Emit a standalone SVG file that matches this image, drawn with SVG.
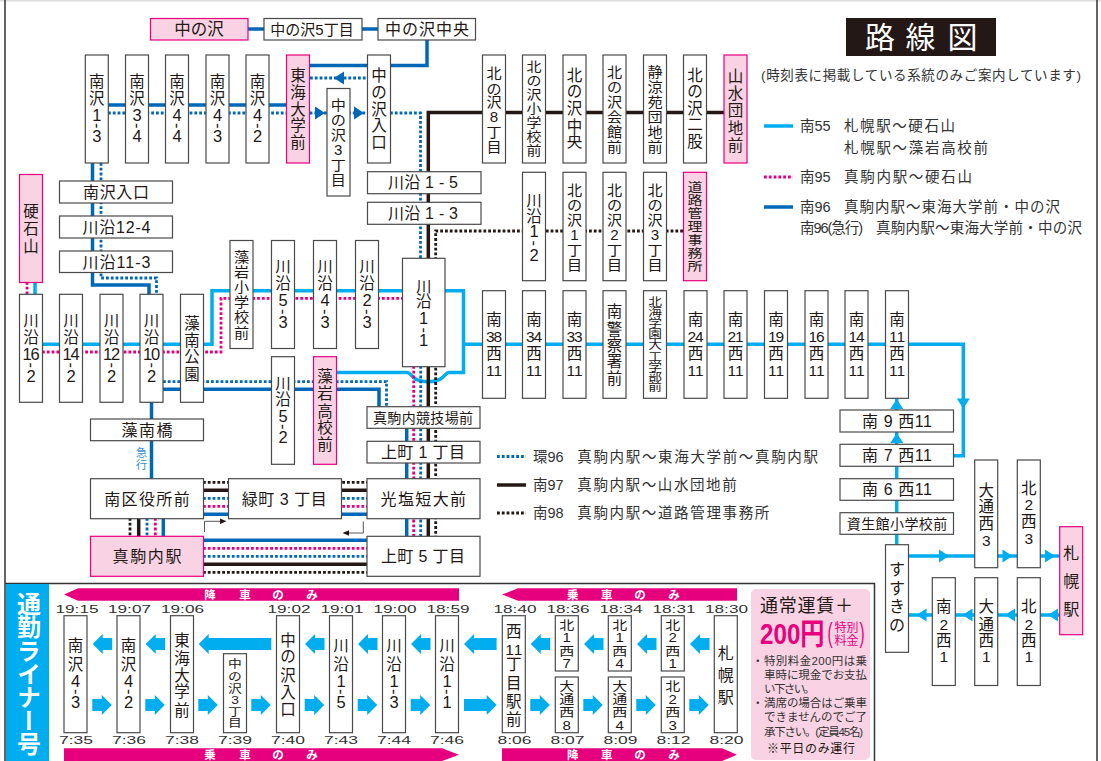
<svg xmlns="http://www.w3.org/2000/svg" width="1101" height="761" viewBox="0 0 1101 761">
<style>
text{font-family:"Liberation Sans","Noto Sans CJK JP",sans-serif;fill:#231815}
.n{fill:#fff;stroke:#4a4a4a;stroke-width:1.2}
.p{fill:#f9d3e3;stroke:#e6007e;stroke-width:1.2}
.v{font-size:15.5px;text-anchor:middle}
.h{font-size:16px;text-anchor:middle}
.f14{font-size:14px}.f145{font-size:14.5px}.f13{font-size:13px}.f125{font-size:12.5px}.f12{font-size:12px}.f115{font-size:11.5px}.f16{font-size:16px}
.g{font-size:16.5px}
.l{font-size:14.5px;fill:#333}
.tm{font-size:10.5px;text-anchor:middle;fill:#333}
.bt{font-size:11.5px;font-weight:bold;fill:#fff;text-anchor:middle}
.note{font-size:11.5px;fill:#333}
.c,.m,.d,.k,.bd,.pd,.kd,.thin{fill:none}
.c{stroke:#00aeef;stroke-width:3.5}
.d{stroke:#0068b7;stroke-width:3.5}
.k{stroke:#231815;stroke-width:3.5}
.bd{stroke:#0068b7;stroke-width:2.8;stroke-dasharray:2.8 2}
.pd{stroke:#e6007e;stroke-width:2.8;stroke-dasharray:2.8 2}
.kd{stroke:#231815;stroke-width:2.8;stroke-dasharray:2.8 2}
.thin{stroke:#555;stroke-width:1}
.fc{fill:#00aeef}.fd{fill:#0068b7}.fk{fill:#231815}.fp{fill:#e6007e}
</style>
<defs>
<path id="tr" d="M0-6.5L10 0L0 6.5Z"/>
<path id="tl" d="M10-6.5L0 0L10 6.5Z"/>
<path id="tu" d="M-6.5 10L0 0L6.5 10Z"/>
<path id="td" d="M-6.5 0L0 10L6.5 0Z"/>
<path id="al" d="M0 0L10-10V-6H19.500V6H10V10Z"/>
<path id="ar" d="M19.500 0L9.500-10V-6H0V6H9.500V10Z"/>
</defs>
<rect x="0" y="0" width="1101" height="1.500" fill="#ddd"/>
<path d="M5 0V761M1097 0V761M5 583.500H874.500V761" fill="none" stroke="#333" stroke-width="1.500"/>
<g id="title"><rect x="846" y="18" width="150" height="38" fill="#231815"/>
<text x="880 920.500 962.500" y="48 48 48" style="font-size:30px;fill:#fff;text-anchor:middle">路線図</text></g>
<text x="761" y="80" class="l" style="font-size:13.500px" textLength="320">(時刻表に掲載している系統のみご案内しています)</text>
<g id="legend">
<path class="c" d="M764 126H793"/><path class="pd" d="M764 177H793"/><path class="d" d="M764 207H793"/>
<path class="bd" d="M497 456.500H526"/><path class="k" d="M497 485H526"/><path class="kd" d="M497 513H526"/>
<text class="l" x="800" y="131">南55</text><text class="l" x="844" y="131" textLength="111">札幌駅～硬石山</text>
<text class="l" x="844" y="153" textLength="144">札幌駅～藻岩高校前</text>
<text class="l" x="800" y="182">南95</text><text class="l" x="844" y="182" textLength="128">真駒内駅～硬石山</text>
<text class="l" x="800" y="212">南96</text><text class="l" x="844" y="212" textLength="216">真駒内駅～東海大学前・中の沢</text>
<text class="l" x="800" y="233" textLength="63">南96(急行)</text><text class="l" x="876" y="233" textLength="206">真駒内駅～東海大学前・中の沢</text>
<text class="l" x="533" y="461.500">環96</text><text class="l" x="577.300" y="461.500" textLength="240.700">真駒内駅～東海大学前～真駒内駅</text>
<text class="l" x="533" y="490">南97</text><text class="l" x="577.300" y="490" textLength="159.400">真駒内駅～山水団地前</text>
<text class="l" x="533" y="518">南98</text><text class="l" x="577.300" y="518" textLength="192">真駒内駅～道路管理事務所</text>
</g>
<g id="connectors">
<path class="d" d="M248 29H378M427 40V65.500H310"/>
<path class="d" d="M108 105H287"/>
<path class="bd" d="M108 113H367"/><path class="bd" d="M390 113H420.500V258"/>
<path class="bd" d="M310 78H367"/>
<g class="fd"><use href="#tr" x="315" y="113"/><use href="#tr" x="354" y="113"/><use href="#tl" x="334" y="78"/></g>
<path class="c" d="M42 344.300H212V290.700H463.500V372.500H449C444 372.500 445 381.700 428 381.700C411 381.700 412 372.500 407 372.500H337"/>
<path class="k" d="M725 112.500H428.300V536"/>
<path class="kd" d="M683 231H435.700V536"/>
<path class="d" d="M92.500 163V285H149V294"/>
<path class="bd" d="M101 163V278H156.500V294"/>
<path class="c" d="M35 282V294"/><path class="pd" d="M27 282V294"/>
<path class="c" d="M463.500 344.300H963.300V455.700H953"/>
<path class="pd" d="M42 352H221V298.300H403"/>
<path class="bd" d="M163 381.700H386.500V407"/>
<path class="d" d="M163 389.300H379V407"/>
<path class="d" d="M151.500 402V479"/>
<path class="d" d="M406.700 428V536.500"/>
<path class="pd" d="M413.700 366V536"/><path class="bd" d="M420.700 366V536"/>
<path class="kd" d="M203 482.300H367"/><path class="k" d="M203 490.300H367"/><path class="bd" d="M203 498.300H367"/><path class="pd" d="M203 506.300H367"/><path class="d" d="M203 514.300H367"/>
<path class="kd" d="M130 518V536"/><path class="k" d="M138.700 518V536"/><path class="bd" d="M147 518V536"/><path class="pd" d="M155.300 518V536"/><path class="d" d="M163.300 518V536"/>
<path class="d" d="M203 540.300H367"/><path class="pd" d="M203 548.300H367"/><path class="bd" d="M203 556.300H367"/><path class="k" d="M203 564.300H367"/><path class="kd" d="M203 572.300H367"/>
<path class="thin" d="M204.500 532V521.300H221M363.300 521.500V533H347"/>
<g class="fk"><path d="M220 518.500L226.500 521.300L220 524Z"/><path d="M349 530.300L342.500 533L349 535.700Z"/></g>
<path class="c" d="M896.700 398V545"/>
<path class="c" d="M908 556H1060M908 615H1060"/>
<g class="fc"><use href="#td" x="963.300" y="398.500"/><use href="#tu" x="896.700" y="399"/><use href="#tu" x="896.700" y="433"/>
<use href="#tr" x="939" y="556"/><use href="#tr" x="1002.500" y="556"/><use href="#tr" x="1045" y="556"/>
<use href="#tl" x="916.500" y="615"/><use href="#tl" x="962.500" y="615"/><use href="#tl" x="1005" y="615"/><use href="#tl" x="1048" y="615"/></g>
</g>
<g id="nodes">
<g id="n-nakanosawa"><rect class="p" x="150.500" y="18.500" width="97.500" height="21.500"/><text class="h" x="199" y="35" style="font-size:16.500px">中の沢</text></g>
<g id="n-nakanosawa5"><rect class="n" x="264" y="18.500" width="98" height="21.500"/><text class="h" x="312" y="35" style="font-size:15px">中の沢5丁目</text></g>
<g id="n-nakanosawa-c"><rect class="n" x="378" y="18.500" width="97.500" height="21.500"/><text class="h" x="427" y="35" textLength="84">中の沢中央</text></g>
<g id="n1"><rect class="n" x="85.300" y="55" width="23" height="108"/><text class="v" x="96.800 96.800 96.800 95 96.800" y="87.400 104 120.700 123.100 142.400" rotate="0 0 0 90 0">南沢<tspan class="g">1-3</tspan></text></g>
<g id="n2"><rect class="n" x="125.500" y="55" width="23" height="108"/><text class="v" x="137 137 137 135.200 137" y="87.400 104 120.700 123.100 142.400" rotate="0 0 0 90 0">南沢<tspan class="g">3-4</tspan></text></g>
<g id="n3"><rect class="n" x="165.500" y="55" width="23" height="108"/><text class="v" x="177 177 177 175.200 177" y="87.400 104 120.700 123.100 142.400" rotate="0 0 0 90 0">南沢<tspan class="g">4-4</tspan></text></g>
<g id="n4"><rect class="n" x="206" y="55" width="23" height="108"/><text class="v" x="217.500 217.500 217.500 215.700 217.500" y="87.400 104 120.700 123.100 142.400" rotate="0 0 0 90 0">南沢<tspan class="g">4-3</tspan></text></g>
<g id="n5"><rect class="n" x="246" y="55" width="23" height="108"/><text class="v" x="257.500 257.500 257.500 255.700 257.500" y="87.400 104 120.700 123.100 142.400" rotate="0 0 0 90 0">南沢<tspan class="g">4-2</tspan></text></g>
<g id="n6"><rect class="p" x="286.500" y="55" width="23" height="108"/><text class="v" x="298 298 298 298 298" y="81.400 97.700 114.700 131.400 148">東海大学前</text></g>
<g id="n7"><rect class="n" x="367.500" y="55" width="23" height="108"/><text class="v" x="379 379 379 379 379" y="81.400 97.700 114.700 131.400 148">中の沢入口</text></g>
<g id="n8"><rect class="n" x="327" y="88.500" width="23" height="107.500"/><text class="v f14" transform="translate(338.300 0) scale(1.08 1)" x="0 0 0 0 0 0" y="110.400 124.700 139.700 154.700 170.400 185.400">中の沢3丁目</text></g>
<g id="n9"><rect class="n" x="482.500" y="55" width="23" height="108"/><text class="v f14" transform="translate(494 0) scale(1.08 1)" x="0 0 0 0 0 0" y="77.800 93.800 107.200 122.200 137.200 152.200">北の沢8丁目</text></g>
<g id="n10"><rect class="n" x="522.500" y="55" width="23" height="108"/><text class="v f13" transform="translate(534 0) scale(1.15 1)" x="0 0 0 0 0 0 0" y="71.500 85.400 99.300 113.200 127.100 141 154.900">北の沢小学校前</text></g>
<g id="n11"><rect class="n" x="563" y="55" width="23" height="108"/><text class="v" x="574.500 574.500 574.500 574.500 574.500" y="80.700 97.200 113.700 132.400 147.400">北の沢中央</text></g>
<g id="n12"><rect class="n" x="603" y="55" width="23" height="108"/><text class="v f14" transform="translate(614.500 0) scale(1.08 1)" x="0 0 0 0 0 0" y="77.200 92.200 107.200 122.200 137.200 152.200">北の沢会館前</text></g>
<g id="n13"><rect class="n" x="643.500" y="55" width="23" height="108"/><text class="v f14" transform="translate(655 0) scale(1.08 1)" x="0 0 0 0 0 0" y="77.200 92.200 107.200 122.200 137.200 152.200">静涼苑団地前</text></g>
<g id="n14"><rect class="n" x="683.500" y="55" width="23" height="108"/><text class="v" x="695 695 695 695 695" y="80.700 97.200 113.700 130.200 147">北の沢二股</text></g>
<g id="n15"><rect class="p" x="724" y="55" width="23" height="108"/><text class="v" x="735.500 735.500 735.500 735.500 735.500" y="82.400 98.700 115.700 133.700 150.700">山水団地前</text></g>
<g id="n16"><rect class="n" x="367.500" y="171.700" width="113.500" height="22"/><text class="h" x="423" y="188" textLength="70">川沿 1 - 5</text></g>
<g id="n17"><rect class="n" x="367.500" y="202.300" width="113.500" height="22"/><text class="h" x="423" y="219" textLength="70">川沿 1 - 3</text></g>
<g id="n18"><rect class="n" x="522.500" y="172.300" width="23" height="108.400"/><text class="v" x="534 534 534 532.200 534" y="205.700 222.400 237.400 240.400 260.700" rotate="0 0 0 90 0">川沿<tspan class="g">1-2</tspan></text></g>
<g id="n19"><rect class="n" x="563" y="172.300" width="23" height="108.400"/><text class="v f14" transform="translate(574.500 0) scale(1.08 1)" x="0 0 0 0 0 0" y="195.500 210.500 225.500 240.500 255.500 270.500">北の沢1丁目</text></g>
<g id="n20"><rect class="n" x="603" y="172.300" width="23" height="108.400"/><text class="v f14" transform="translate(614.500 0) scale(1.08 1)" x="0 0 0 0 0 0" y="195.500 210.500 225.500 240.500 255.500 270.500">北の沢2丁目</text></g>
<g id="n21"><rect class="n" x="643.500" y="172.300" width="23" height="108.400"/><text class="v f14" transform="translate(655 0) scale(1.08 1)" x="0 0 0 0 0 0" y="195.500 210.500 225.500 240.500 255.500 270.500">北の沢3丁目</text></g>
<g id="n22"><rect class="p" x="683.500" y="172.300" width="23" height="108.400"/><text class="v f125" transform="translate(695 0) scale(1.2 1)" x="0 0 0 0 0 0 0" y="191.600 204.900 218.200 231.500 244.800 258.100 271.400">道路管理事務所</text></g>
<g id="n23"><rect class="p" x="19.500" y="174.500" width="23" height="108"/><text class="v" x="31 31 31" y="217.400 234 251.700">硬石山</text></g>
<g id="n24"><rect class="n" x="59.500" y="181" width="113" height="22"/><text class="h" x="116" y="198" textLength="66">南沢入口</text></g>
<g id="n25"><rect class="n" x="59.500" y="216" width="113" height="22"/><text class="h" x="116.500" y="232.500" textLength="68">川沿12-4</text></g>
<g id="n26"><rect class="n" x="59.500" y="251" width="113" height="21.500"/><text class="h" x="116.500" y="267.500" textLength="68">川沿11-3</text></g>
<g id="n27"><rect class="n" x="19.500" y="294.300" width="23" height="108"/><text class="v" x="31 31 27 35 29.200 31" y="326.400 343 359.700 359.700 362.400 381.700" rotate="0 0 0 0 90 0">川沿<tspan class="g">16-2</tspan></text></g>
<g id="n28"><rect class="n" x="59.500" y="294.300" width="23" height="108"/><text class="v" x="71 71 67 75 69.200 71" y="326.400 343 359.700 359.700 362.400 381.700" rotate="0 0 0 0 90 0">川沿<tspan class="g">14-2</tspan></text></g>
<g id="n29"><rect class="n" x="100" y="294.300" width="23" height="108"/><text class="v" x="111.500 111.500 107.500 115.500 109.700 111.500" y="326.400 343 359.700 359.700 362.400 381.700" rotate="0 0 0 0 90 0">川沿<tspan class="g">12-2</tspan></text></g>
<g id="n30"><rect class="n" x="140" y="294.300" width="23" height="108"/><text class="v" x="151.500 151.500 147.500 155.500 149.700 151.500" y="326.400 343 359.700 359.700 362.400 381.700" rotate="0 0 0 0 90 0">川沿<tspan class="g">10-2</tspan></text></g>
<g id="n31"><rect class="n" x="180.500" y="294.300" width="23" height="108"/><text class="v" x="192 192 192 192" y="329 345.700 362.400 380">藻南公園</text></g>
<g id="n32"><rect class="n" x="230" y="240.500" width="23" height="108"/><text class="v f14" transform="translate(241.500 0) scale(1.08 1)" x="0 0 0 0 0 0" y="262.200 277.200 292.200 307.200 322.200 338.200">藻岩小学校前</text></g>
<g id="n33"><rect class="n" x="271.500" y="240.500" width="23" height="108"/><text class="v" x="283 283 283 281.200 283" y="272.400 289 306.400 309 327.700" rotate="0 0 0 90 0">川沿<tspan class="g">5-3</tspan></text></g>
<g id="n34"><rect class="n" x="313.500" y="240.500" width="23" height="108"/><text class="v" x="325 325 325 323.200 325" y="272.400 289 306.400 309 327.700" rotate="0 0 0 90 0">川沿<tspan class="g">4-3</tspan></text></g>
<g id="n35"><rect class="n" x="355.500" y="240.500" width="23" height="108"/><text class="v" x="367 367 367 365.200 367" y="272.400 289 306.400 309 327.700" rotate="0 0 0 90 0">川沿<tspan class="g">2-3</tspan></text></g>
<g id="n36"><rect class="n" x="402.500" y="258.300" width="42.500" height="108.400"/><text class="v" x="423.700 423.700 423.700 421.900 423.700" y="292.400 307.400 324 327.400 345.700" rotate="0 0 0 90 0">川沿<tspan class="g">1-1</tspan></text></g>
<g id="n37"><rect class="n" x="271.500" y="356.700" width="23" height="107.600"/><text class="v" x="283 283 283 281.200 283" y="389 405 422.400 424 443.400" rotate="0 0 0 90 0">川沿<tspan class="g">5-2</tspan></text></g>
<g id="n38"><rect class="p" x="313.500" y="356.700" width="23" height="107.600"/><text class="v" x="325 325 325 325 325" y="382.400 399 417.400 433.400 449.700">藻岩高校前</text></g>
<g id="n39"><rect class="n" x="90.500" y="419" width="113" height="21.700"/><text class="h" x="147" y="435.500" textLength="51">藻南橋</text></g>
<text id="kyuko" x="141.500 141.500" y="457 469" style="font-size:11.500px;text-anchor:middle;fill:#3a8fd0">急行</text>
<g id="n40"><rect class="n" x="367" y="406.700" width="113" height="21.600"/><text class="h f14" x="423" y="423" textLength="100">真駒内競技場前</text></g>
<g id="n41"><rect class="n" x="367" y="441.300" width="113" height="21.700"/><text class="h" x="423" y="458" textLength="84">上町 1 丁目</text></g>
<g id="n42"><rect class="n" x="90.500" y="478.700" width="113" height="40"/><text class="h" x="147" y="504.500" textLength="85.500">南区役所前</text></g>
<g id="n43"><rect class="n" x="228.500" y="478.700" width="113" height="40"/><text class="h" x="284.200" y="504.500" textLength="85">緑町 3 丁目</text></g>
<g id="n44"><rect class="n" x="367" y="478.700" width="113" height="40"/><text class="h" x="423.300" y="504.500" textLength="85.500">光塩短大前</text></g>
<g id="n45"><rect class="p" x="90.500" y="536.300" width="113" height="40"/><text class="h" x="147" y="562" textLength="69">真駒内駅</text></g>
<g id="n46"><rect class="n" x="367" y="536.300" width="113" height="40"/><text class="h" x="423" y="562" textLength="84">上町 5 丁目</text></g>
<g id="n47"><rect class="n" x="482.500" y="290.700" width="23" height="107.600"/><text class="v" x="494 490.200 497.800 494 490.200 497.800" y="325 341.700 341.700 359 375.700 375.700">南38西11</text></g>
<g id="n48"><rect class="n" x="522.500" y="290.700" width="23" height="107.600"/><text class="v" x="534 530.200 537.800 534 530.200 537.800" y="325 341.700 341.700 359 375.700 375.700">南34西11</text></g>
<g id="n49"><rect class="n" x="563" y="290.700" width="23" height="107.600"/><text class="v" x="574.500 570.700 578.300 574.500 570.700 578.300" y="325 341.700 341.700 359 375.700 375.700">南33西11</text></g>
<g id="n50"><rect class="n" x="603" y="290.700" width="23" height="107.600"/><text class="v" x="614.500 614.500 614.500 614.500 614.500" y="317.400 335 350.700 367.400 384">南警察署前</text></g>
<g id="n51"><rect class="n" x="643.500" y="290.700" width="23" height="107.600"/><text transform="translate(655 0) scale(1.25 1)" style="font-size:11px;text-anchor:middle" x="0 0 0 0 0 0 0 0 0" y="305.900 315.900 326.900 338.200 349.200 360.900 371.400 381.400 391.400">北海学園大工学部前</text></g>
<g id="n52"><rect class="n" x="684" y="290.700" width="23" height="107.600"/><text class="v" x="695.500 691.700 699.300 695.500 691.700 699.300" y="325 341.700 341.700 359 375.700 375.700">南24西11</text></g>
<g id="n53"><rect class="n" x="724" y="290.700" width="23" height="107.600"/><text class="v" x="735.500 731.700 739.300 735.500 731.700 739.300" y="325 341.700 341.700 359 375.700 375.700">南21西11</text></g>
<g id="n54"><rect class="n" x="764.500" y="290.700" width="23" height="107.600"/><text class="v" x="776 772.200 779.800 776 772.200 779.800" y="325 341.700 341.700 359 375.700 375.700">南19西11</text></g>
<g id="n55"><rect class="n" x="805" y="290.700" width="23" height="107.600"/><text class="v" x="816.500 812.700 820.300 816.500 812.700 820.300" y="325 341.700 341.700 359 375.700 375.700">南16西11</text></g>
<g id="n56"><rect class="n" x="845" y="290.700" width="23" height="107.600"/><text class="v" x="856.500 852.700 860.300 856.500 852.700 860.300" y="325 341.700 341.700 359 375.700 375.700">南14西11</text></g>
<g id="n57"><rect class="n" x="885.500" y="290.700" width="23" height="107.600"/><text class="v" x="897 893.200 900.800 897 893.200 900.800" y="325 341.700 341.700 359 375.700 375.700">南11西11</text></g>
<g id="n58"><rect class="n" x="840" y="410" width="113.500" height="22"/><text class="h" x="897" y="426.500" textLength="70">南 9 西11</text></g>
<g id="n59"><rect class="n" x="840" y="444.300" width="113.500" height="22"/><text class="h" x="897" y="461" textLength="70">南 7 西11</text></g>
<g id="n60"><rect class="n" x="840" y="478.700" width="113.500" height="21.600"/><text class="h" x="897" y="495" textLength="70">南 6 西11</text></g>
<g id="n61"><rect class="n" x="840" y="512.700" width="113.500" height="21.600"/><text class="h f14" x="897" y="529" textLength="100.500">資生館小学校前</text></g>
<g id="n62"><rect class="n" x="885.500" y="544.700" width="23" height="107.600"/><text class="v f16" x="897 897 897 897" y="574.700 594 611.700 630.700">すすきの</text></g>
<g id="n63"><rect class="n" x="974.700" y="460" width="23" height="107.700"/><text class="v" x="986.200 986.200 986.200 986.200" y="495.700 512.400 529 545.700">大通西3</text></g>
<g id="n64"><rect class="n" x="1017.300" y="460" width="23" height="107.700"/><text class="v" x="1028.800 1028.800 1028.800 1028.800" y="494 510 527.400 544">北2西3</text></g>
<g id="n65"><rect class="p" x="1059.700" y="526.700" width="23" height="108"/><text class="v f16" x="1071.200 1071.200 1071.200" y="559 587.400 615">札幌駅</text></g>
<g id="n66"><rect class="n" x="932.300" y="577.700" width="23" height="107.800"/><text class="v" x="943.800 943.800 943.800 943.800" y="612.400 629.700 645.700 662.400">南2西1</text></g>
<g id="n67"><rect class="n" x="974.700" y="577.700" width="23" height="107.800"/><text class="v" x="986.200 986.200 986.200 986.200" y="612.400 629.700 645.700 662.400">大通西1</text></g>
<g id="n68"><rect class="n" x="1017.300" y="577.700" width="23" height="107.800"/><text class="v" x="1028.800 1028.800 1028.800 1028.800" y="612.400 629.700 645.700 662.400">北2西1</text></g>
</g>
<g id="liner">
<rect x="6" y="584" width="43" height="177" fill="#00aeef"/>
<text x="27" y="592" style="font-size:24px;font-weight:bold;fill:#fff;writing-mode:vertical-rl;text-orientation:upright;letter-spacing:-.7px">通勤ライナー号</text>
<path class="fp" d="M64 594.500L78 588.300H459V600.700H78Z"/>
<path class="fp" d="M502 594.500L518 588.300H737V600.700H518Z"/>
<path class="fp" d="M64 748.300H442L459 754.700L442 761H64Z"/>
<path class="fp" d="M502 748.300H722L737 754.700L722 761H502Z"/>
<text class="bt" x="210 245 278 312" y="599 599 599 599">降車のみ</text>
<text class="bt" x="572.700 606.700 640 674" y="599 599 599 599">乗車のみ</text>
<text class="bt" x="210 245 278 312" y="759 759 759 759">乗車のみ</text>
<text class="bt" x="572.700 606.700 640 674" y="759 759 759 759">降車のみ</text>
<g id="times" class="tm">
<text class="tm" x="77" y="613" textLength="43" lengthAdjust="spacingAndGlyphs">19:15</text>
<text class="tm" x="129.500" y="613" textLength="43" lengthAdjust="spacingAndGlyphs">19:07</text>
<text class="tm" x="182.500" y="613" textLength="43" lengthAdjust="spacingAndGlyphs">19:06</text>
<text class="tm" x="289" y="613" textLength="43" lengthAdjust="spacingAndGlyphs">19:02</text>
<text class="tm" x="342" y="613" textLength="43" lengthAdjust="spacingAndGlyphs">19:01</text>
<text class="tm" x="395" y="613" textLength="43" lengthAdjust="spacingAndGlyphs">19:00</text>
<text class="tm" x="448" y="613" textLength="43" lengthAdjust="spacingAndGlyphs">18:59</text>
<text class="tm" x="515" y="613" textLength="43" lengthAdjust="spacingAndGlyphs">18:40</text>
<text class="tm" x="568" y="613" textLength="43" lengthAdjust="spacingAndGlyphs">18:36</text>
<text class="tm" x="621" y="613" textLength="43" lengthAdjust="spacingAndGlyphs">18:34</text>
<text class="tm" x="674" y="613" textLength="43" lengthAdjust="spacingAndGlyphs">18:31</text>
<text class="tm" x="726.500" y="613" textLength="43" lengthAdjust="spacingAndGlyphs">18:30</text>
<text class="tm" x="76" y="744" textLength="34" lengthAdjust="spacingAndGlyphs">7:35</text>
<text class="tm" x="129" y="744" textLength="34" lengthAdjust="spacingAndGlyphs">7:36</text>
<text class="tm" x="182" y="744" textLength="34" lengthAdjust="spacingAndGlyphs">7:38</text>
<text class="tm" x="235" y="744" textLength="34" lengthAdjust="spacingAndGlyphs">7:39</text>
<text class="tm" x="288" y="744" textLength="34" lengthAdjust="spacingAndGlyphs">7:40</text>
<text class="tm" x="341" y="744" textLength="34" lengthAdjust="spacingAndGlyphs">7:43</text>
<text class="tm" x="394" y="744" textLength="34" lengthAdjust="spacingAndGlyphs">7:44</text>
<text class="tm" x="447" y="744" textLength="34" lengthAdjust="spacingAndGlyphs">7:46</text>
<text class="tm" x="514.500" y="744" textLength="34" lengthAdjust="spacingAndGlyphs">8:06</text>
<text class="tm" x="567.500" y="744" textLength="34" lengthAdjust="spacingAndGlyphs">8:07</text>
<text class="tm" x="620.500" y="744" textLength="34" lengthAdjust="spacingAndGlyphs">8:09</text>
<text class="tm" x="673.500" y="744" textLength="34" lengthAdjust="spacingAndGlyphs">8:12</text>
<text class="tm" x="726.500" y="744" textLength="34" lengthAdjust="spacingAndGlyphs">8:20</text>
</g>
<g class="fc">
<use href="#al" x="92.700" y="644"/><use href="#al" x="145.700" y="644"/>
<path d="M198.700 644L208.700 634V638H271.300V650H208.700V654Z"/>
<use href="#al" x="305" y="644"/><use href="#al" x="358" y="644"/><use href="#al" x="411" y="644"/>
<path d="M464 644L474 634V638H496.600V650H474V654Z"/>
<use href="#al" x="530.700" y="644"/><use href="#al" x="584" y="644"/><use href="#al" x="637" y="644"/><use href="#al" x="690" y="644"/>
<use href="#ar" x="92.300" y="705"/><use href="#ar" x="145.300" y="705"/><use href="#ar" x="198.300" y="705"/><use href="#ar" x="251.300" y="705"/><use href="#ar" x="304.700" y="705"/><use href="#ar" x="357.700" y="705"/><use href="#ar" x="410.700" y="705"/>
<path d="M496.700 705L486.700 695V699H464V711H486.700V715Z"/>
<use href="#ar" x="530.300" y="705"/><use href="#ar" x="583.300" y="705"/><use href="#ar" x="636.300" y="705"/><use href="#ar" x="689.300" y="705"/>
</g>
<g id="b1"><rect class="n" x="64" y="615.700" width="23" height="117"/><text class="v" x="75.500 75.500 75.500 73.700 75.500" y="651.400 669.700 686.700 689 708.400" rotate="0 0 0 90 0">南沢<tspan class="g">4-3</tspan></text></g>
<g id="b2"><rect class="n" x="117" y="615.700" width="23" height="117"/><text class="v" x="128.500 128.500 128.500 126.700 128.500" y="651.400 669.700 686.700 689 708.400" rotate="0 0 0 90 0">南沢<tspan class="g">4-2</tspan></text></g>
<g id="b3"><rect class="n" x="170.500" y="615.700" width="23" height="117"/><text class="v" x="182 182 182 182 182" y="645.700 664 680.700 697.400 715.700">東海大学前</text></g>
<g id="b4"><rect class="n" x="223.500" y="653.700" width="23" height="79"/><text class="v f115" transform="translate(235 0) scale(1.2 1)" x="0 0 0 0 0 0" y="668 681.400 693 704 715.700 727.400">中の沢3丁目</text></g>
<g id="b5"><rect class="n" x="276.500" y="615.700" width="23" height="117"/><text class="v" x="288 288 288 288 288" y="645.700 662.400 680.700 698 715">中の沢入口</text></g>
<g id="b6"><rect class="n" x="329.500" y="615.700" width="23" height="117"/><text class="v" x="341 341 341 339.200 341" y="651.400 669.700 686.700 689 708.400" rotate="0 0 0 90 0">川沿<tspan class="g">1-5</tspan></text></g>
<g id="b7"><rect class="n" x="382.500" y="615.700" width="23" height="117"/><text class="v" x="394 394 394 392.200 394" y="651.400 669.700 686.700 689 708.400" rotate="0 0 0 90 0">川沿<tspan class="g">1-3</tspan></text></g>
<g id="b8"><rect class="n" x="435.500" y="615.700" width="23" height="117"/><text class="v" x="447 447 447 445.200 447" y="651.400 669.700 686.700 689 708.400" rotate="0 0 0 90 0">川沿<tspan class="g">1-1</tspan></text></g>
<g id="b9"><rect class="n" x="502.300" y="615.700" width="23" height="117"/><text class="v" x="513.800 509.500 518.100 513.800 513.800 513.800 513.800" y="637.400 654.700 654.700 670 689 706.700 725">西11丁目駅前</text></g>
<g id="b10"><rect class="n" x="555.300" y="615.700" width="23" height="55.300"/><text class="v f12" transform="translate(566.800 0) scale(1.25 1)" x="0 0 0 0" y="629.600 642.300 655.600 667.900">北1西7</text></g>
<g id="b11"><rect class="n" x="555.300" y="677" width="23" height="55.700"/><text class="v f12" transform="translate(566.800 0) scale(1.25 1)" x="0 0 0 0" y="691.300 703.900 717.300 729.600">大通西8</text></g>
<g id="b12"><rect class="n" x="608.300" y="615.700" width="23" height="55.300"/><text class="v f12" transform="translate(619.800 0) scale(1.25 1)" x="0 0 0 0" y="629.600 642.300 655.600 667.900">北1西4</text></g>
<g id="b13"><rect class="n" x="608.300" y="677" width="23" height="55.700"/><text class="v f12" transform="translate(619.800 0) scale(1.25 1)" x="0 0 0 0" y="691.300 703.900 717.300 729.600">大通西4</text></g>
<g id="b14"><rect class="n" x="661.300" y="615.700" width="23" height="55.300"/><text class="v f12" transform="translate(672.800 0) scale(1.25 1)" x="0 0 0 0" y="629.600 642.300 655.600 667.900">北2西1</text></g>
<g id="b15"><rect class="n" x="661.300" y="677" width="23" height="55.700"/><text class="v f12" transform="translate(672.800 0) scale(1.25 1)" x="0 0 0 0" y="691.300 703.900 717.300 729.600">北2西3</text></g>
<g id="b16"><rect class="n" x="714.300" y="615.700" width="23" height="117"/><text class="v f16" x="725.800 725.800 725.800" y="659 681 703.400">札幌駅</text></g>
</g>
<g id="fare">
<rect x="751" y="589" width="119" height="171" rx="5" fill="#f9d3e3"/>
<text x="760" y="612" style="font-size:18px" textLength="93">通常運賃＋</text>
<text transform="translate(760 644) scale(.806 1)" style="font-size:30px;font-weight:bold;fill:#e6007e">200円</text>
<text x="840.500 852.500 840.500 852.500" y="632 632 645 645" style="font-size:12px;fill:#e6007e;text-anchor:middle">特別料金</text>
<text transform="translate(827.500 642) scale(.55 1)" style="font-size:28px;fill:#e6007e">(</text>
<text transform="translate(859.500 642) scale(.55 1)" style="font-size:28px;fill:#e6007e">)</text>
<text class="note" x="752" y="664.500">・</text>
<text class="note" x="764" y="664.500" textLength="103">特別料金200円は乗</text>
<text class="note" x="764" y="678.500" textLength="103">車時に現金でお支払</text>
<text class="note" x="764" y="693" textLength="51">い下さい。</text>
<text class="note" x="752" y="707">・</text>
<text class="note" x="764" y="707" textLength="103">満席の場合はご乗車</text>
<text class="note" x="764" y="721" textLength="103">できませんのでご了</text>
<text class="note" x="764" y="735.500" textLength="99">承下さい。(定員45名)</text>
<text class="note" x="767" y="752.500" style="font-size:12px;fill:#231815" textLength="88">※平日のみ運行</text>
</g>
</svg>
